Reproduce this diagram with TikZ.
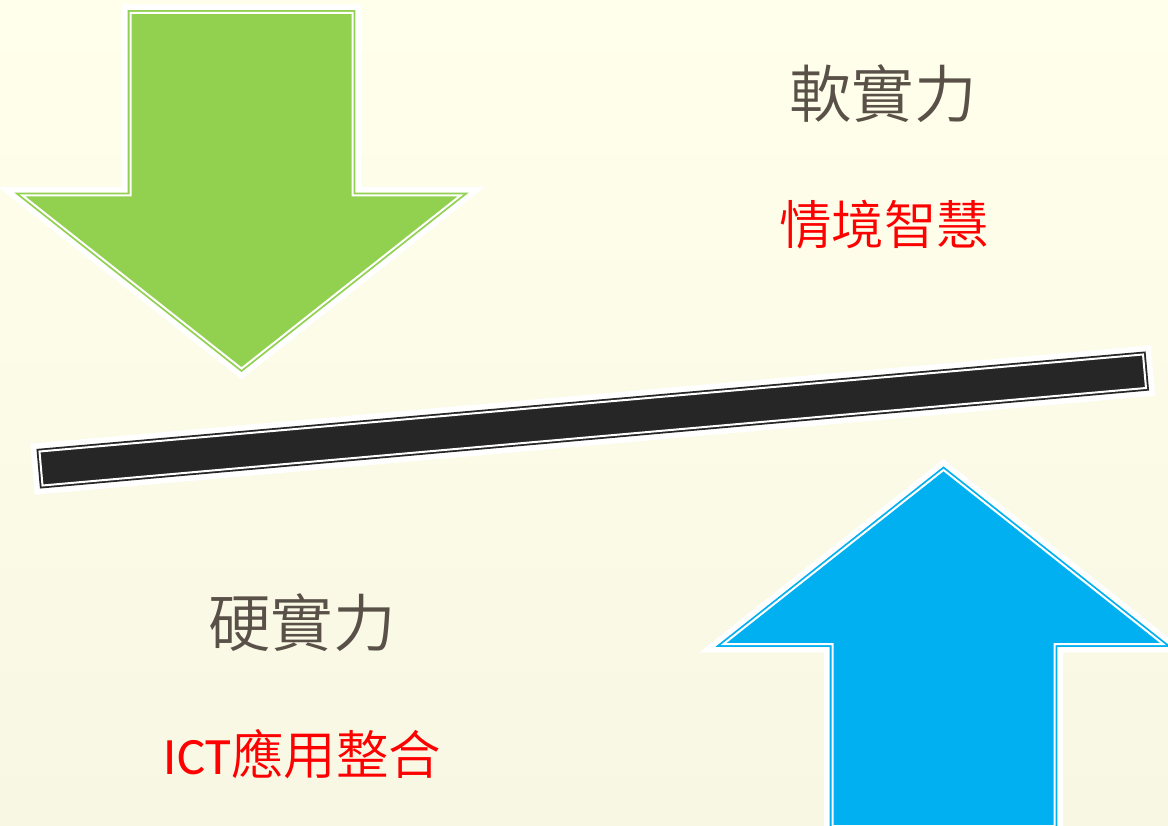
\documentclass[tikz,border=0pt]{standalone}
\usepackage{fontspec}
\newfontfamily\cjk{Noto Sans CJK TC}[UprightFont={* DemiLight}]
\newfontfamily\latinf{Carlito}
\definecolor{bgtop}{HTML}{FFFFEB}
\definecolor{bgmid}{HTML}{FEFEEA}
\definecolor{bgbot}{HTML}{F7F7E4}
\definecolor{greenarrow}{HTML}{92D050}
\definecolor{bluearrow}{HTML}{00B0F0}
\definecolor{barfill}{HTML}{262626}
\definecolor{softgrey}{HTML}{595048}
\definecolor{redtext}{HTML}{FF0000}
\tikzset{
  halo/.style={draw=white,line width=17pt,miter limit=20,line join=miter},
  edgeline/.style={draw=#1,line width=5.6pt,miter limit=20,line join=miter},
  whiteline/.style={draw=white,fill=#1,line width=2pt,miter limit=20,line join=miter},
  headtext/.style={font=\cjk\fontsize{62.5}{64}\selectfont,text=softgrey,inner sep=0pt,anchor=center},
  redlabel/.style={font=\cjk\fontsize{52.5}{54}\selectfont,text=redtext,inner sep=0pt,anchor=center},
}
\begin{document}
\begin{tikzpicture}[x=1pt,y=-1pt]
\useasboundingbox (0,0) rectangle (1168,826);
\shade[top color=bgtop,middle color=bgmid,bottom color=bgbot] (0,0) rectangle (1168,826);
% green arrow
\def\greenpath{(130.5,13) -- (352.5,13) -- (352.5,195.5) -- (460.5,195.5) -- (241.5,368.5) -- (22.5,195.5) -- (130.5,195.5) -- cycle}
\path[halo] \greenpath;
\path[edgeline=greenarrow] \greenpath;
\path[whiteline=greenarrow] \greenpath;
% blue arrow
\def\bluepath{(832.5,826) -- (832.5,644) -- (723.5,644) -- (943.5,470) -- (1163,644) -- (1054.5,644) -- (1054.5,826) -- cycle}
\path[halo] \bluepath;
\path[edgeline=bluearrow] \bluepath;
\path[whiteline=bluearrow] \bluepath;
% lever bar
\def\barpath{(39.5,451.5) -- (1143,354.5) -- (1146,388) -- (42.5,485.5) -- cycle}
\path[halo] \barpath;
\path[edgeline=barfill] \barpath;
\path[whiteline=barfill] \barpath;
% labels
\node[headtext] (soft) at (883,94) {軟實力};
\node[redlabel] (softsub) at (884,225) {情境智慧};
\node[headtext] (hard) at (302,623) {硬實力};
\node[redlabel] (hardsub) at (302.5,754) {{\latinf ICT}應用整合};
\end{tikzpicture}
\end{document}
